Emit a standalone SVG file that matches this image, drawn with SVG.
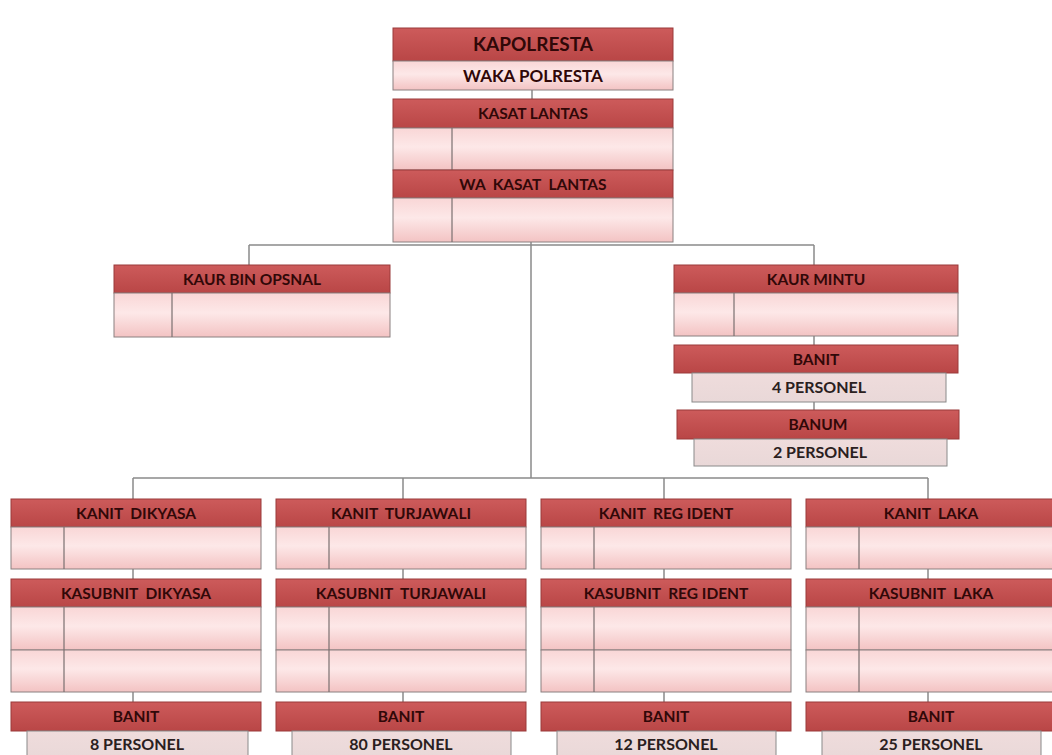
<svg xmlns="http://www.w3.org/2000/svg" width="1052" height="755" viewBox="0 0 1052 755">
<defs>
<linearGradient id="gh" x1="0" y1="0" x2="0" y2="1">
<stop offset="0" stop-color="#cd5b5b"/><stop offset="1" stop-color="#b94646"/>
</linearGradient>
<linearGradient id="gb" x1="0" y1="0" x2="0" y2="1">
<stop offset="0" stop-color="#f9d6d6"/><stop offset="0.45" stop-color="#fde8e8"/><stop offset="1" stop-color="#f3c3c3"/>
</linearGradient>
<linearGradient id="gp" x1="0" y1="0" x2="0" y2="1">
<stop offset="0" stop-color="#efdcdc"/><stop offset="1" stop-color="#e9d8d8"/>
</linearGradient>
<style>
.h{fill:url(#gh);stroke:#9a3a3a;stroke-width:1}
.b{fill:url(#gb);stroke:#8a8080;stroke-width:1}
.p{fill:url(#gp);stroke:#8a8a8a;stroke-width:1}
.d{stroke:#7a7070;stroke-width:1.2}
.c{stroke:#8a8a8a;stroke-width:1.5;fill:none}
text{font-family:Lato,"Open Sans","Liberation Sans",sans-serif;font-weight:bold;font-size:15.5px;fill:#300808;text-anchor:middle;white-space:pre}
.big{font-size:19px}
.w{font-size:17px}
.pt{font-size:16px;fill:#2a2020}
</style>
</defs>
<rect width="1052" height="755" fill="#ffffff"/>
<g id="connectors">
<path class="c" d="M532 90V99"/>
<path class="c" d="M531 242V478"/>
<path class="c" d="M249 245H814M249 245V265M814 245V265"/>
<path class="c" d="M814 336V345M814 402V410"/>
<path class="c" d="M133 478H928M133 478V499M403 478V499M664 478V499M928 478V499"/>
<path class="c" d="M133 569V579M133 692V702M403 569V579M403 692V702M664 569V579M664 692V702M928 569V579M928 692V702"/>
</g>
<g id="kapolresta">
<rect class="h" x="393" y="28" width="280" height="33"/>
<text class="big" x="533" y="51">KAPOLRESTA</text>
<rect class="b" x="393" y="61" width="280" height="29"/>
<text class="w" x="533" y="82">WAKA POLRESTA</text>
</g>
<g id="kasat-lantas">
<rect class="h" x="393" y="99" width="280" height="29"/>
<text x="533" y="119">KASAT LANTAS</text>
<rect class="b" x="393" y="128" width="280" height="42"/>
<line class="d" x1="452" y1="128" x2="452" y2="170"/>
</g>
<g id="wa-kasat-lantas">
<rect class="h" x="393" y="170" width="280" height="28"/>
<text x="533" y="190">WA  KASAT  LANTAS</text>
<rect class="b" x="393" y="198" width="280" height="44"/>
<line class="d" x1="452" y1="198" x2="452" y2="242"/>
</g>
<g id="kaur-bin-opsnal">
<rect class="h" x="114" y="265" width="276" height="28"/>
<text x="252" y="285">KAUR BIN OPSNAL</text>
<rect class="b" x="114" y="293" width="276" height="44"/>
<line class="d" x1="172" y1="293" x2="172" y2="337"/>
</g>
<g id="kaur-mintu">
<rect class="h" x="674" y="265" width="284" height="28"/>
<text x="816" y="285">KAUR MINTU</text>
<rect class="b" x="674" y="293" width="284" height="43"/>
<line class="d" x1="734" y1="293" x2="734" y2="336"/>
</g>
<g id="banit-mintu">
<rect class="h" x="674" y="345" width="284" height="28"/>
<text x="816" y="365">BANIT</text>
<rect class="p" x="692" y="373" width="254" height="29"/>
<text class="pt" x="819" y="393">4 PERSONEL</text>
</g>
<g id="banum">
<rect class="h" x="677" y="410" width="282" height="29"/>
<text x="818" y="430">BANUM</text>
<rect class="p" x="694" y="439" width="253" height="27"/>
<text class="pt" x="820" y="458">2 PERSONEL</text>
</g>
<g id="kanit-dikyasa">
<rect class="h" x="11" y="499" width="250" height="28"/>
<text x="136" y="519">KANIT  DIKYASA</text>
<rect class="b" x="11" y="527" width="250" height="42"/>
<line class="d" x1="64" y1="527" x2="64" y2="569"/>
</g>
<g id="kasubnit-dikyasa">
<rect class="h" x="11" y="579" width="250" height="28"/>
<text x="136" y="599">KASUBNIT  DIKYASA</text>
<rect class="b" x="11" y="607" width="250" height="43"/>
<rect class="b" x="11" y="650" width="250" height="42"/>
<line class="d" x1="64" y1="607" x2="64" y2="692"/>
</g>
<g id="banit-dikyasa">
<rect class="h" x="11" y="702" width="250" height="29"/>
<text x="136" y="722">BANIT</text>
<rect class="p" x="27" y="731" width="221" height="30"/>
<text class="pt" x="137" y="750">8 PERSONEL</text>
</g>
<g id="kanit-turjawali">
<rect class="h" x="276" y="499" width="250" height="28"/>
<text x="401" y="519">KANIT  TURJAWALI</text>
<rect class="b" x="276" y="527" width="250" height="42"/>
<line class="d" x1="329" y1="527" x2="329" y2="569"/>
</g>
<g id="kasubnit-turjawali">
<rect class="h" x="276" y="579" width="250" height="28"/>
<text x="401" y="599">KASUBNIT  TURJAWALI</text>
<rect class="b" x="276" y="607" width="250" height="43"/>
<rect class="b" x="276" y="650" width="250" height="42"/>
<line class="d" x1="329" y1="607" x2="329" y2="692"/>
</g>
<g id="banit-turjawali">
<rect class="h" x="276" y="702" width="250" height="29"/>
<text x="401" y="722">BANIT</text>
<rect class="p" x="292" y="731" width="219" height="30"/>
<text class="pt" x="401" y="750">80 PERSONEL</text>
</g>
<g id="kanit-reg-ident">
<rect class="h" x="541" y="499" width="250" height="28"/>
<text x="666" y="519">KANIT  REG IDENT</text>
<rect class="b" x="541" y="527" width="250" height="42"/>
<line class="d" x1="594" y1="527" x2="594" y2="569"/>
</g>
<g id="kasubnit-reg-ident">
<rect class="h" x="541" y="579" width="250" height="28"/>
<text x="666" y="599">KASUBNIT  REG IDENT</text>
<rect class="b" x="541" y="607" width="250" height="43"/>
<rect class="b" x="541" y="650" width="250" height="42"/>
<line class="d" x1="594" y1="607" x2="594" y2="692"/>
</g>
<g id="banit-reg-ident">
<rect class="h" x="541" y="702" width="250" height="29"/>
<text x="666" y="722">BANIT</text>
<rect class="p" x="557" y="731" width="219" height="30"/>
<text class="pt" x="666" y="750">12 PERSONEL</text>
</g>
<g id="kanit-laka">
<rect class="h" x="806" y="499" width="250" height="28"/>
<text x="931" y="519">KANIT  LAKA</text>
<rect class="b" x="806" y="527" width="250" height="42"/>
<line class="d" x1="859" y1="527" x2="859" y2="569"/>
</g>
<g id="kasubnit-laka">
<rect class="h" x="806" y="579" width="250" height="28"/>
<text x="931" y="599">KASUBNIT  LAKA</text>
<rect class="b" x="806" y="607" width="250" height="43"/>
<rect class="b" x="806" y="650" width="250" height="42"/>
<line class="d" x1="859" y1="607" x2="859" y2="692"/>
</g>
<g id="banit-laka">
<rect class="h" x="806" y="702" width="250" height="29"/>
<text x="931" y="722">BANIT</text>
<rect class="p" x="822" y="731" width="219" height="30"/>
<text class="pt" x="931" y="750">25 PERSONEL</text>
</g>
</svg>
